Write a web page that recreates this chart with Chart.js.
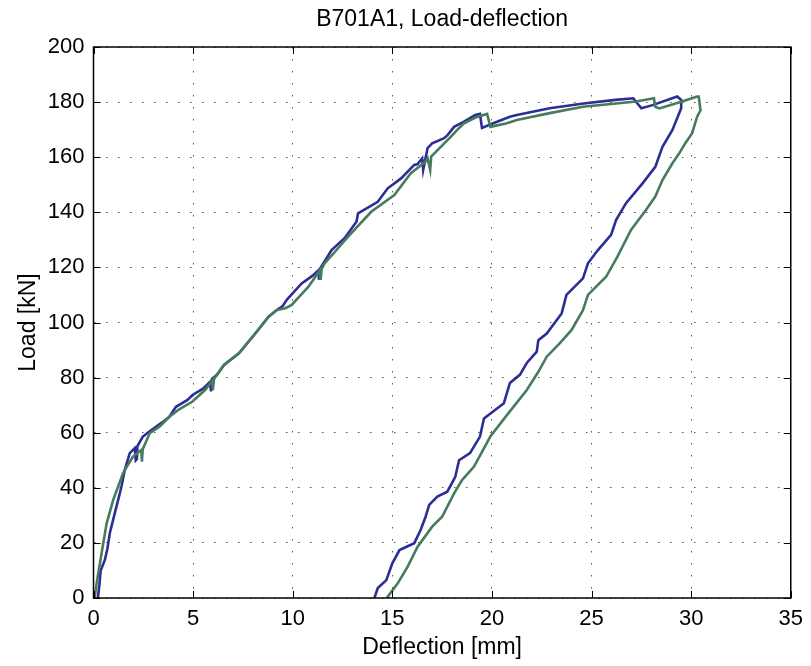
<!DOCTYPE html>
<html>
<head>
<meta charset="utf-8">
<script src="https://cdn.jsdelivr.net/npm/chart.js@4.4.1/dist/chart.umd.min.js"></script>
<style>
  html, body { margin: 0; padding: 0; background: #fff; }
  #wrap { width: 811px; height: 666px; }
</style>
</head>
<body>
<div id="wrap"><canvas id="loadCanvas" width="811" height="666"></canvas></div>
<script>
// data (deflection mm / load kN)
var blueX = [0.22,0.3,0.36,0.57,0.7,0.82,1.07,1.25,1.4,1.57,1.82,2.07,2.12,2.18,2.2,2.47,2.72,3.15,3.5,3.81,4.14,4.72,4.97,5.5,5.85,5.9,5.95,6.2,6.55,7.3,8.13,8.79,9.2,9.5,9.7,10.45,11.0,11.3,11.32,11.37,11.95,12.6,13.2,13.28,14.27,14.77,15.44,16.1,16.27,16.5,16.55,16.62,16.77,17.0,17.6,17.77,18.1,18.6,19.16,19.4,19.5,20.1,20.9,21.25,22.9,24.6,26.2,27.1,27.3,27.5,28.06,29.3,29.5,29.5,29.06,28.56,28.2,27.56,26.73,26.23,25.98,25.32,24.82,24.57,23.74,23.5,22.75,22.33,22.25,21.75,21.4,20.9,20.6,19.6,19.4,18.9,18.35,18.16,17.76,17.26,16.85,16.67,16.42,16.1,15.36,15.0,14.7,14.27,14.1];
var blueY = [0,5,10,13.8,18,23.6,30.8,36,40.4,46.5,52.6,54.4,50,50.5,55,58.5,60,62.2,64,65.8,69.4,71.9,73.7,76,78.5,75,79.5,81,84.6,88.8,96.1,102.1,104.5,106,108.2,114.2,117,119,115.5,119.5,126.3,130.6,136.6,139.6,143.8,148.7,152.3,157.2,157.5,159.6,155.4,158,163.3,165,166.9,168,171,172.9,175.3,175.7,170.6,172.4,174.7,175.3,177.8,179.5,180.8,181.4,179.5,177.8,178.9,182,180.8,177.8,169.9,163.8,156.5,150.5,143.3,137.2,131.8,126.3,121.5,116,110,103.3,96,93.6,89.4,85.3,81,78,70.7,65.2,58.6,52.6,50,44,38.6,36.8,33.8,29.5,24.7,19.9,17.4,12.6,6.5,3.6,0];

var greenX = [0.0,0.07,0.15,0.24,0.49,0.66,0.99,1.48,1.98,2.4,2.43,2.47,2.82,3.31,3.81,4.3,4.97,5.6,5.97,5.99,6.05,6.55,7.3,8.13,8.79,9.2,9.63,9.95,10.79,11.37,11.4,11.45,11.6,12.1,12.78,13.94,15.1,15.93,16.67,16.77,16.9,16.95,17.93,18.26,18.6,19.2,19.76,19.92,20.75,21.25,22.9,24.57,26.23,27.23,28.13,28.2,28.4,29.55,30.3,30.38,30.47,30.3,30.05,29.7,29.4,29.06,28.56,28.2,27.73,26.98,26.3,25.73,24.82,24.57,24.0,23.4,22.75,22.33,21.75,20.75,19.92,19.1,18.5,18.1,17.5,17.0,16.27,15.77,15.27,14.77,14.75];
var greenY = [0,0.5,5,9,19.9,27.1,35.6,45.3,51.3,53.7,49.5,54,59.8,62.2,65.8,68.5,71.3,75.5,79,75.5,79.5,84.6,88.8,96.1,102.1,104.5,105.2,106.4,113,119,115.5,119.5,121.5,125.5,131.2,140.2,146.3,154.2,158.4,159.6,155.4,160.2,167.4,169.9,172.3,174.5,175.7,171,172.3,173.5,176,178.3,179.5,180.2,181.4,178.3,177.7,180.2,182,182,177,174.7,168.7,165,161.4,157.8,151.7,145.7,140.8,133.6,123.9,116.6,110,104.5,97.3,92.4,87.6,82.1,75.5,66.4,58.6,47.7,42.8,38,29.5,25.9,18.6,11.4,5.3,0.5,0];

var xTicks = [0,5,10,15,20,25,30,35];
var yTicks = [0,20,40,60,80,100,120,140,160,180,200];

function toPoints(xs, ys) {
    var pts = [];
    for (var i = 0; i < xs.length; i++) pts.push({x: xs[i], y: ys[i]});
    return pts;
}

var FONT = "'Liberation Sans', Arial, Helvetica, sans-serif";

// black box with inward ticks on all four sides (matlab look)
var framePlugin = {
    id: 'frame',
    afterDraw: function(chart) {
        var ctx = chart.ctx, a = chart.chartArea;
        var xs = chart.scales.x, ys = chart.scales.y;
        var len = 7;
        ctx.save();
        ctx.strokeStyle = '#000';
        ctx.lineWidth = 1.5;
        ctx.strokeRect(a.left, a.top, a.right - a.left, a.bottom - a.top);
        ctx.lineWidth = 1;
        ctx.beginPath();
        xTicks.forEach(function(v) {
            var px = Math.round(xs.getPixelForValue(v)) + 0.5;
            ctx.moveTo(px, a.bottom); ctx.lineTo(px, a.bottom - len);
            ctx.moveTo(px, a.top); ctx.lineTo(px, a.top + len);
        });
        yTicks.forEach(function(v) {
            var py = Math.round(ys.getPixelForValue(v)) + 0.5;
            ctx.moveTo(a.left, py); ctx.lineTo(a.left + len, py);
            ctx.moveTo(a.right, py); ctx.lineTo(a.right - len, py);
        });
        ctx.stroke();
        ctx.restore();
    }
};

var canvas = document.getElementById('loadCanvas');
var myChart = new Chart(canvas, {
    type: 'scatter',
    data: {
        datasets: [{
            label: 'blue',
            data: toPoints(blueX, blueY),
            showLine: true,
            borderColor: '#2c2e96',
            borderWidth: 2.6,
            pointRadius: 0,
            tension: 0,
            order: 2
        }, {
            label: 'green',
            data: toPoints(greenX, greenY),
            showLine: true,
            borderColor: '#467c5c',
            borderWidth: 2.6,
            pointRadius: 0,
            tension: 0,
            order: 1
        }]
    },
    options: {
        responsive: false,
        animation: false,
        layout: { padding: { top: 0, right: 13, left: 0, bottom: 0 } },
        plugins: {
            legend: { display: false },
            tooltip: { enabled: false },
            title: {
                display: true,
                text: 'B701A1, Load-deflection',
                fullSize: false,
                color: '#000',
                font: { family: FONT, size: 23, weight: 'normal' },
                padding: { top: 6, bottom: 13.4 }
            }
        },
        scales: {
            x: {
                type: 'linear',
                min: 0, max: 35,
                afterBuildTicks: function(s) { s.ticks = xTicks.map(function(v) { return {value: v}; }); },
                afterFit: function(s) { s.height = 68; },
                ticks: { color: '#000', padding: 8, font: { family: FONT, size: 22 } },
                grid: { color: '#555', lineWidth: 1, drawTicks: false },
                border: { display: false, dash: [1.5, 10.5] },
                title: { display: true, text: 'Deflection [mm]', color: '#000',
                         font: { family: FONT, size: 23 }, padding: { top: 0, bottom: 5 } }
            },
            y: {
                type: 'linear',
                min: 0, max: 200,
                afterBuildTicks: function(s) { s.ticks = yTicks.map(function(v) { return {value: v}; }); },
                afterFit: function(s) { s.width = 93.5; },
                ticks: { color: '#000', padding: 9, font: { family: FONT, size: 22 } },
                grid: { color: '#555', lineWidth: 1, drawTicks: false },
                border: { display: false, dash: [1.5, 10.5] },
                title: { display: true, text: 'Load [kN]', color: '#000',
                         font: { family: FONT, size: 23 }, padding: { top: 15, bottom: 0 } }
            }
        }
    },
    plugins: [framePlugin]
});
</script>
</body>
</html>
